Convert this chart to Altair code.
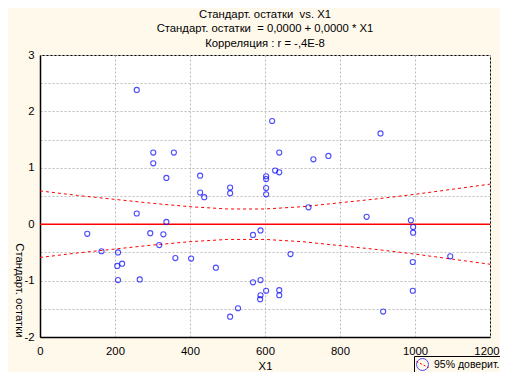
import altair as alt
import pandas as pd

# scatter points: X1 and standardized residuals
x1 = [258, 302, 357, 302, 337, 427, 507, 507, 427, 438,
      603, 603, 603, 603, 258, 337, 619, 638, 729, 769,
      908, 627, 638, 716, 871, 989, 995, 995, 126, 164,
      208, 206, 219, 208, 266, 294, 318, 329, 361, 403,
      469, 568, 588, 568, 588, 603, 588, 587, 528, 507,
      668, 638, 638, 915, 994, 994, 1094]
resid = [2.38, 1.27, 1.27, 1.08, 0.82, 0.86, 0.65, 0.55, 0.56, 0.48,
         0.85, 0.80, 0.64, 0.53, 0.19, 0.04, 1.83, 1.27, 1.15, 1.21,
         1.61, 0.95, 0.92, 0.30, 0.13, 0.07, -0.05, -0.15, -0.17, -0.48,
         -0.50, -0.74, -0.70, -0.99, -0.98, -0.16, -0.37, -0.18, -0.60, -0.61,
         -0.77, -0.19, -0.11, -1.03, -0.99, -1.18, -1.26, -1.33, -1.49, -1.64,
         -0.53, -1.17, -1.26, -1.55, -0.67, -1.18, -0.57]

# regression line
fit_x = [0, 1200]
fit_y = [0.0, 0.0]

# 95% confidence band
band_x = [0, 100, 200, 300, 400, 500, 600, 700, 800, 900, 1000, 1100, 1200]
band_upper = [0.59, 0.51, 0.44, 0.37, 0.31, 0.27, 0.27, 0.31, 0.38, 0.45, 0.53, 0.62, 0.71]
band_lower = [-0.59, -0.51, -0.44, -0.37, -0.31, -0.27, -0.27, -0.31, -0.38, -0.45, -0.53, -0.62, -0.71]

title_lines = ["Стандарт. остатки \u00a0vs. X1",
               "Стандарт. остатки \u00a0= 0,0000 + 0,0000 * X1",
               "Корреляция : r = -,4E-8"]
x_ticks = [0, 200, 400, 600, 800, 1000, 1200]
y_ticks = [-2, -1.5, -1, -0.5, 0, 0.5, 1, 1.5, 2, 2.5, 3]
legend_label = "95% доверит."

FONT = "Liberation Sans"
FS = 11.3
PLOT_H = 282

pts = pd.DataFrame({"X1": x1, "res": resid, "pt": legend_label})
fit = pd.DataFrame({"X1": fit_x, "res": fit_y})
band = pd.DataFrame({
    "X1": band_x + band_x,
    "res": band_upper + band_lower,
    "side": ["upper"] * len(band_x) + ["lower"] * len(band_x),
    "ci": legend_label,
})

last_x = "datum.value == %d" % x_ticks[-1]
xenc = alt.X("X1:Q", scale=alt.Scale(domain=[0, 1200], nice=False, zero=False),
             axis=alt.Axis(values=x_ticks, title="X1", format="d",
                           labelAlign={"condition": {"test": last_x, "value": "right"}, "value": "center"},
                           labelOffset={"condition": {"test": last_x, "value": 9}, "value": 0}))
yenc = alt.Y("res:Q", scale=alt.Scale(domain=[-2, 3], nice=False, zero=False),
             axis=alt.Axis(values=y_ticks, title="Стандарт. остатки",
                           labelExpr="datum.value % 1 == 0 ? '' + datum.value : ''"))

LEG_X, LEG_Y = 374, 301
common_leg = dict(orient="none", legendX=LEG_X, legendY=LEG_Y, title=None,
                  symbolSize=144, symbolStrokeWidth=1, padding=2,
                  labelFont=FONT, labelFontSize=10.5, labelOffset=5, labelLimit=200)

fit_layer = alt.Chart(fit).mark_line(color="#FF0000", strokeWidth=1.5).encode(x=xenc, y=yenc)

band_layer = alt.Chart(band).mark_line(strokeDash=[3, 3], strokeWidth=1).encode(
    x=xenc, y=yenc, detail="side:N",
    stroke=alt.Stroke("ci:N", scale=alt.Scale(range=["#FF0000"]),
                      legend=alt.Legend(symbolType="M-1,-0.5L1,0.5", symbolDash=[2, 2],
                                        strokeColor="black", labelColor="black",
                                        **common_leg)),
)

pt_layer = alt.Chart(pts).mark_point(filled=False, size=26, strokeWidth=1.1).encode(
    x=xenc, y=yenc,
    color=alt.value("#0000FF"),
    shape=alt.Shape("pt:N", scale=alt.Scale(range=["circle"]),
                    legend=alt.Legend(symbolType="M0.42,0A0.42,0.42 0 1,1 -0.42,0A0.42,0.42 0 1,1 0.42,0Z",
                                      symbolStrokeColor="#0000FF", symbolFillColor="transparent",
                                      labelExpr="''", **common_leg)),
)

chart = alt.layer(fit_layer, band_layer, pt_layer).properties(
    width=450, height=PLOT_H,
    autosize=alt.AutoSizeParams(type="none"),
    padding={"left": 32, "top": 47, "right": 10, "bottom": 35},
    background="#FFF9EC",
    title=alt.Title(text=title_lines, font=FONT, fontSize=FS, fontWeight="normal",
                    anchor="middle", lineHeight=14.5, offset=0, color="black"),
).configure_view(
    fill="white", stroke="black", strokeWidth=1
).configure_axis(
    labelFont=FONT, labelFontSize=FS, labelColor="black",
    titleFont=FONT, titleFontSize=FS, titleFontWeight="normal", titleColor="black",
    domainColor="black", domainWidth=1.5,
    grid=True, gridColor="#BDBDBD", gridDash=[2, 2], gridWidth=1,
    ticks=False, labelFlush=False,
).configure_axisX(
    labelPadding=8, titlePadding=4
).configure_axisY(
    labelPadding=6, titleAngle=90, titleAlign="right", titleBaseline="middle",
    titleX=-22, titleY=PLOT_H
)

chart.save("out.html", embed_options={"renderer": "svg", "actions": False})
